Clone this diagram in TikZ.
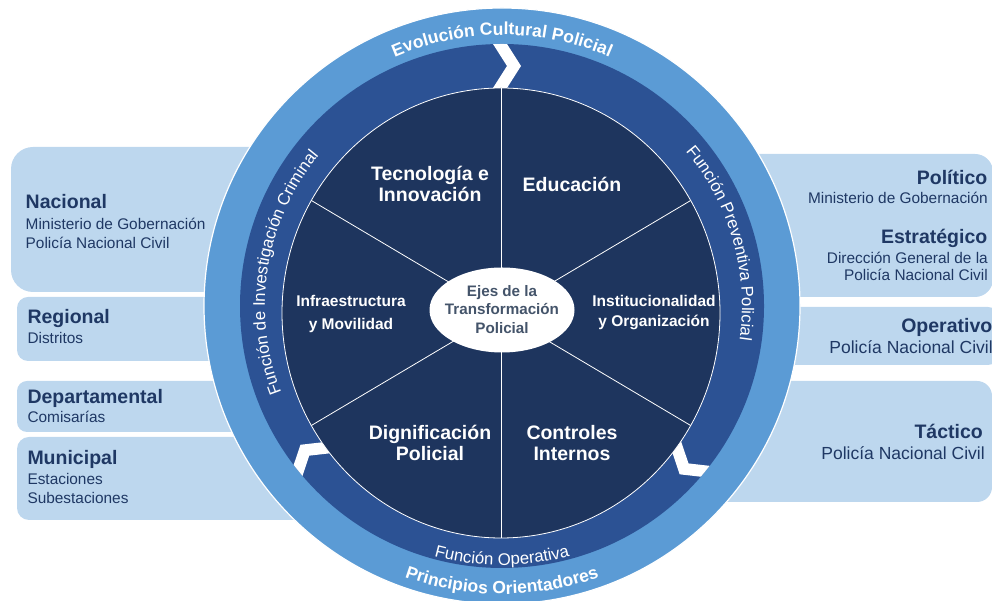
\documentclass[tikz,border=0pt]{standalone}
\usepackage{fontspec}
\setmainfont{Liberation Sans}
\usetikzlibrary{decorations.text,calc}
\definecolor{ringlight}{HTML}{5B9BD5}
\definecolor{ringmid}{HTML}{2C5294}
\definecolor{core}{HTML}{1E355E}
\definecolor{boxfill}{HTML}{BDD7EE}
\definecolor{boxtext}{HTML}{1F3864}
\definecolor{ejetext}{HTML}{44546A}
\tikzset{
  lvlbox/.style={fill=boxfill, draw=none},
  head/.style={font=\bfseries\fontsize{19.5}{22}\selectfont, text=boxtext, inner sep=0pt},
  detail/.style={font=\fontsize{15.4}{18}\selectfont, text=boxtext, inner sep=0pt},
  detailbig/.style={font=\fontsize{17.5}{20}\selectfont, text=boxtext, inner sep=0pt},
  seglabel/.style={font=\bfseries\fontsize{19.5}{21}\selectfont, text=white, align=center, inner sep=0pt},
  seglabelsm/.style={font=\bfseries\fontsize{15.5}{22}\selectfont, text=white, align=center, inner sep=0pt},
  segline/.style={draw=white, line width=0.8pt},
  chevronfill/.style={fill=white, draw=none},
  ringbold/.style={decorate, decoration={text along path, text align=center, text color=white,
      text={|\bfseries\fontsize{17.5}{20}\selectfont|#1}}},
  ringreg/.style={decorate, decoration={text along path, text align=center, text color=white,
      text={|\fontsize{16.8}{20}\selectfont|#1}}},
}
\begin{document}
\begin{tikzpicture}[x=1pt,y=1pt]
\useasboundingbox (0,0) rectangle (992,601);
\coordinate (O) at (502,295);
\coordinate (I) at (501,288);
\coordinate (E) at (502,291);

% level boxes (left)
\fill[lvlbox, rounded corners=22] (11,309) rectangle (400,454);
\fill[lvlbox, rounded corners=11] (17,240) rectangle (400,304);
\fill[lvlbox, rounded corners=10] (17,169) rectangle (400,220);
\fill[lvlbox, rounded corners=12] (17,81) rectangle (400,164);
% level boxes (right)
\fill[lvlbox, rounded corners=18] (600,304) rectangle (993,447);
\fill[lvlbox, rounded corners=12] (600,236) rectangle (1000,294);
\fill[lvlbox, rounded corners=15] (600,99) rectangle (992,220);

% left texts
\node[head, anchor=base west] (nac) at (25.5,392) {Nacional};
\node[detail, anchor=base west] (nac1) at (25.5,371.7) {Ministerio de Gobernación};
\node[detail, anchor=base west] (nac2) at (25.5,352.7) {Policía Nacional Civil};
\node[head, anchor=base west] (reg) at (27.3,277) {Regional};
\node[detail, anchor=base west] (reg1) at (27.3,257.7) {Distritos};
\node[head, anchor=base west] (dep) at (27.3,197.7) {Departamental};
\node[detail, anchor=base west] (dep1) at (27.3,178.3) {Comisarías};
\node[head, anchor=base west] (mun) at (27.3,136) {Municipal};
\node[detail, anchor=base west] (mun1) at (27.3,116) {Estaciones};
\node[detail, anchor=base west] (mun2) at (27.3,97.7) {Subestaciones};

% right texts
\node[head, anchor=base east] (pol) at (987.5,416.7) {Político};
\node[detail, anchor=base east] (pol1) at (988,397) {Ministerio de Gobernación};
\node[head, anchor=base east] (est) at (987.5,357.7) {Estratégico};
\node[detail, anchor=base east] (est1) at (988,337.7) {Dirección General de la};
\node[detail, anchor=base east] (est2) at (988,320) {Policía Nacional Civil};
\node[head, anchor=base east] (ope) at (992.5,268.3) {Operativo};
\node[detailbig, anchor=base east] (ope1) at (993,247) {Policía Nacional Civil};
\node[head, anchor=base east] (tac) at (983,162.7) {Táctico};
\node[detailbig, anchor=base east] (tac1) at (985,141) {Policía Nacional Civil};

% rings
\fill[ringlight, draw=white, line width=1.2pt] (O) circle[radius=298];
\fill[ringmid] (O) circle[radius=262];
\begin{scope}
  \clip (O) circle[radius=262];
  \foreach \a/\m in {90/240, 219/244, 321/244} {
    \begin{scope}[shift={(O)}, rotate={\a-90}]
      \fill[chevronfill] (-17.3,\m+35) -- (-3.3,\m+35) -- (19,\m) -- (-3.3,\m-35) -- (-17.3,\m-35) -- (5,\m) -- cycle;
    \end{scope}
  }
\end{scope}

% core
\fill[core, draw=white, line width=0.8pt] (I) ellipse[x radius=219, y radius=225];
\foreach \t in {30,90,...,330} {
  \path (I) ++(\t:219 and 225) coordinate (s\t);
  \draw[segline] (I) -- (s\t);
}

% ring texts
\path[ringbold={Evolución Cultural Policial}] ($(O)+(150:271)$) arc[start angle=150, end angle=30, radius=271];
\path[ringbold={Principios Orientadores}] ($(O)+(210:288)$) arc[start angle=210, end angle=330, radius=288];
\path[ringreg={Función Operativa}] ($(O)+(220:259)$) arc[start angle=220, end angle=320, radius=259];
\path[ringreg={Función de Investigación Criminal}] ($(O)+(241:237)$) arc[start angle=241, end angle=101, radius=237];
\path[ringreg={Función Preventiva Policial}] ($(O)+(66:240)$) arc[start angle=66, end angle=-34, radius=240];

% segment labels
\node[seglabel] (tec) at (430,417.5) {Tecnología e\\Innovación};
\node[seglabel] (edu) at (572,417) {Educación};
\node[seglabelsm, font=\bfseries\fontsize{15.5}{23}\selectfont] (inf) at (351,287.5) {Infraestructura\\y Movilidad};
\node[seglabelsm, font=\bfseries\fontsize{15.5}{19.5}\selectfont] (ins) at (654,288.5) {Institucionalidad\\y Organización};
\node[seglabel] (dig) at (430,158) {Dignificación\\Policial};
\node[seglabel] (con) at (572,158) {Controles\\Internos};

% center ellipse
\fill[white] (E) ellipse[x radius=72.5, y radius=42.5];
\node[inner sep=0pt, align=center, text=ejetext, font=\bfseries\fontsize{15.2}{18.5}\selectfont] (ejes) at (502,291.5)
      {Ejes de la\\Transformación\\Policial};
\end{tikzpicture}
\end{document}
